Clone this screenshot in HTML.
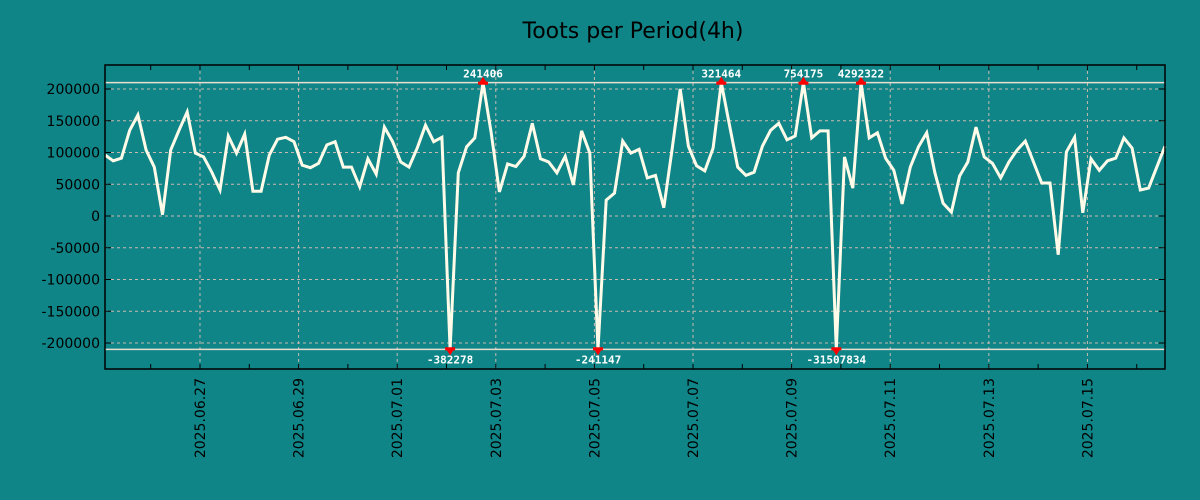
<!DOCTYPE html>
<html><head><meta charset="utf-8">
<style>
html,body{margin:0;padding:0;background:#108587;}
svg{display:block;font-family:"DejaVu Sans","Liberation Sans",sans-serif;}
</style></head>
<body>
<svg id="chart" width="1200" height="500" viewBox="0 0 1200 500" xmlns="http://www.w3.org/2000/svg">
<rect x="0" y="0" width="1200" height="500" fill="#108587"/>
<text x="633" y="38" font-size="22" text-anchor="middle" fill="#000">Toots per Period(4h)</text>
<g id="grid"></g>
<g id="axes"></g>
<g id="series"></g>
<rect x="105" y="65" width="1060" height="304" fill="none" stroke="#000" stroke-width="1.5"/>
</svg>
<script>
const values = [96000,87000,91000,135000,159000,104000,77000,2000,104000,135000,164000,99000,93000,69000,41000,126000,99000,129000,39000,39000,96000,121000,124000,117000,80000,76000,83000,112000,117000,77000,77000,46000,90000,66000,140000,117000,85000,77000,107000,143000,117000,124000,-382278,68000,109000,123000,241406,131000,38000,82000,78000,94000,146000,90000,85000,68000,94000,49000,134000,99000,-241147,25000,36000,118000,99000,105000,60000,64000,13000,104000,200000,110000,79000,71000,107000,321464,143000,77000,64000,69000,110000,135000,146000,120000,126000,754175,123000,134000,134000,-31507834,93000,44000,4292322,123000,131000,91000,72000,19000,77000,109000,131000,68000,20000,6000,63000,85000,140000,93000,83000,60000,85000,104000,118000,85000,52000,52000,-61000,101000,124000,5000,90000,72000,87000,91000,123000,107000,41000,44000,77000,110000];
const yTicks = [200000,150000,100000,50000,0,-50000,-100000,-150000,-200000];
const xTickLabels = ["2025.06.27","2025.06.29","2025.07.01","2025.07.03","2025.07.05","2025.07.07","2025.07.09","2025.07.11","2025.07.13","2025.07.15"];
const clipLimit = 210000;
const firstTickIndex = 11.56; // index position of 2025.06.27 00:00
const pointsPerDay = 6;

const NS="http://www.w3.org/2000/svg";
const L=105,R=1165,T=65,B=369;
const xS=i=>L+i*(R-L)/(values.length-1);
const yS=v=>216-v*127/200000;
function mk(tag,attrs,parent){const e=document.createElementNS(NS,tag);for(const k in attrs)e.setAttribute(k,attrs[k]);parent.appendChild(e);return e;}
const grid=document.getElementById('grid'),axes=document.getElementById('axes'),series=document.getElementById('series');

yTicks.forEach(v=>{
  const y=yS(v);
  const g=mk('line',{x1:L,x2:R,y1:y,y2:y,stroke:'#c9b9b0','stroke-width':1,'stroke-dasharray':'3,3'},grid);
  
  
  const t=mk('line',{x1:L,x2:L+6,y1:y,y2:y,stroke:'#000'},axes);
  
  
  const t2=mk('line',{x1:R-6,x2:R,y1:y,y2:y,stroke:'#000'},axes);
  
  
  const lb=mk('text',{x:100,y:y+5,'font-size':14,'text-anchor':'end',fill:'#000'},axes);
  lb.textContent=String(v);
  
  
});
for(let d=-1;d<20;d++){
  const x=xS(firstTickIndex+d*pointsPerDay);
  if(x<L||x>R)continue;
  const mt=mk('line',{x1:x,x2:x,y1:B,y2:B-5,stroke:'#000'},axes);
  
  
  const mt2=mk('line',{x1:x,x2:x,y1:T,y2:T+5,stroke:'#000'},axes);
  
  
}
xTickLabels.forEach((s,k)=>{
  const x=xS(firstTickIndex+k*2*pointsPerDay);
  const g=mk('line',{x1:x,x2:x,y1:T,y2:B,stroke:'#c9b9b0','stroke-width':1,'stroke-dasharray':'3,3'},grid);
  
  
  const lb=mk('text',{x:0,y:0,'font-size':14,'text-anchor':'end',fill:'#000',transform:`translate(${x+5},378) rotate(-90)`},axes);
  lb.textContent=s;
  
  
});
[clipLimit,-clipLimit].forEach(v=>{
  const c=mk('line',{x1:L,x2:R,y1:yS(v),y2:yS(v),stroke:'#e8ddd0','stroke-width':1.5},grid);
  
  
});
const pts=values.map((v,i)=>xS(i).toFixed(1)+','+yS(Math.max(-clipLimit,Math.min(clipLimit,v))).toFixed(1)).join(' ');
const line=mk('polyline',{points:pts,fill:'none',stroke:'#fffbe8','stroke-width':3,'stroke-linejoin':'miter'},series);


values.forEach((v,i)=>{
  if(Math.abs(v)<=clipLimit)return;
  const x=xS(i),top=v>0,y=yS(top?clipLimit:-clipLimit);
  const tri=mk('polygon',{points:top?`${x-5},${y+2} ${x+5},${y+2} ${x},${y-6}`:`${x-5},${y-2} ${x+5},${y-2} ${x},${y+6}`,fill:'#ff0000'},series);
  
  
  const bar=mk('rect',{x:x-5,y:top?y-1:y-2,width:10,height:3,fill:'#ff0000'},series);
  
  
  const lb=mk('text',{x:x,y:top?y-5:y+14,'font-size':11,'font-weight':'bold','font-family':'"DejaVu Sans Mono","Liberation Mono",monospace','text-anchor':'middle',fill:'#fff'},series);
  lb.textContent=String(v);
  
  
});
</script>
</body></html>
